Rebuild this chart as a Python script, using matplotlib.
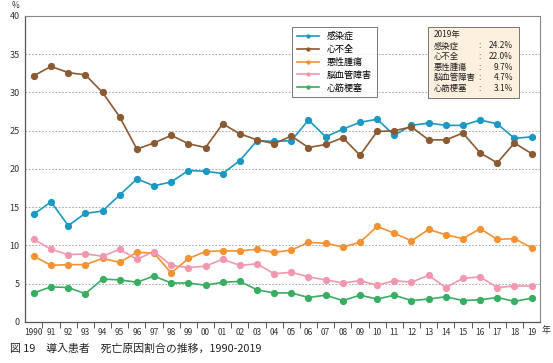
import numpy as np
import matplotlib.pyplot as plt
from matplotlib.patches import Rectangle

plt.rcParams['font.family'] = ['Noto Sans CJK JP', 'DejaVu Sans']

# 年（横軸ラベル）
years = ['1990', '91', '92', '93', '94', '95', '96', '97', '98', '99',
         '00', '01', '02', '03', '04', '05', '06', '07', '08', '09',
         '10', '11', '12', '13', '14', '15', '16', '17', '18', '19']

# 各死亡原因の割合 (%)
kansensho = [14.1, 15.7, 12.6, 14.2, 14.5, 16.6, 18.7, 17.8, 18.3, 19.8,
             19.7, 19.4, 21.1, 23.7, 23.6, 23.7, 26.4, 24.2, 25.2, 26.1,
             26.5, 24.4, 25.7, 26.0, 25.7, 25.7, 26.4, 25.9, 24.0, 24.2]
shinfuzen = [32.2, 33.4, 32.6, 32.3, 30.0, 26.8, 22.6, 23.4, 24.4, 23.3,
             22.8, 25.9, 24.6, 23.8, 23.3, 24.3, 22.8, 23.2, 24.1, 21.8,
             24.9, 25.0, 25.5, 23.8, 23.8, 24.7, 22.1, 20.8, 23.4, 22.0]
akusei = [8.6, 7.4, 7.5, 7.5, 8.3, 7.8, 9.1, 9.0, 6.4, 8.3,
          9.2, 9.3, 9.3, 9.5, 9.1, 9.4, 10.4, 10.3, 9.8, 10.4,
          12.5, 11.6, 10.6, 12.1, 11.4, 10.9, 12.2, 10.8, 10.9, 9.7]
noukekkan = [10.8, 9.5, 8.8, 8.9, 8.6, 9.5, 8.2, 9.2, 7.4, 7.1,
             7.3, 8.2, 7.4, 7.6, 6.3, 6.5, 5.9, 5.5, 5.1, 5.4,
             4.8, 5.4, 5.2, 6.1, 4.5, 5.7, 5.9, 4.5, 4.7, 4.7]
shinkin = [3.8, 4.6, 4.5, 3.7, 5.6, 5.5, 5.2, 6.0, 5.1, 5.1,
           4.8, 5.2, 5.3, 4.2, 3.8, 3.8, 3.2, 3.5, 2.8, 3.5,
           3.0, 3.5, 2.8, 3.0, 3.3, 2.8, 2.9, 3.2, 2.7, 3.1]

series = [
    ('感染症', kansensho, '#1b98c4'),
    ('心不全', shinfuzen, '#8b5a32'),
    ('悪性腫瘍', akusei, '#f39232'),
    ('脳血管障害', noukekkan, '#f297ae'),
    ('心筋梗塞', shinkin, '#39ad62'),
]

fig = plt.figure(figsize=(5.53, 3.63), dpi=100)
ax = fig.add_axes([0.0458, 0.113, 0.931, 0.843])

x = np.arange(len(years))
for name, vals, col in series:
    ax.plot(x, vals, color=col, marker='o', markersize=4.2, linewidth=1.2, label=name)

ax.set_xlim(-0.5, len(years) - 0.5)
ax.set_ylim(0, 40)
ax.set_yticks(np.arange(0, 41, 5))
ax.set_xticks(x)
ax.set_xticklabels(years)
ax.set_xticks(np.arange(0.5, len(years) - 1, 1), minor=True)
ax.tick_params(axis='x', which='major', length=0, labelsize=6, pad=4, colors='#333333')
ax.tick_params(axis='x', which='minor', length=4, width=0.7, color='#555555')
ax.tick_params(axis='y', length=0, labelsize=6.5, pad=4, colors='#333333')
ax.yaxis.grid(True, linestyle=(0, (2, 2)), color='#999999', linewidth=0.6)
ax.set_axisbelow(True)
for s in ['left', 'bottom']:
    ax.spines[s].set_color('#555555')
    ax.spines[s].set_linewidth(0.9)
for s in ['top', 'right']:
    ax.spines[s].set_color('#888888')
    ax.spines[s].set_linewidth(0.8)

# 凡例
leg = ax.legend(loc='upper left', bbox_to_anchor=((292 - 25.3) / 515, (322 - 27) / 306),
                fontsize=6.5, frameon=True, fancybox=False, edgecolor='#555555',
                markerscale=0.5, handlelength=2.4, labelspacing=0.42,
                borderpad=0.55, borderaxespad=0, handletextpad=0.9)
leg.get_frame().set_linewidth(0.7)

# 2019年の値のボックス
bx0, by0, bw, bh = 428 / 553, 1 - 98 / 363, 91 / 553, 71 / 363
fig.patches.append(Rectangle((bx0, by0), bw, bh, transform=fig.transFigure,
                             facecolor='#fdf0df', edgecolor='#777777', linewidth=0.7))
fig.text(bx0 + 0.01, 1 - 35 / 363, '2019年', fontsize=6, va='center', color='#222222')
for i, (name, vals, col) in enumerate(series):
    yy = 1 - (46 + i * 10.6) / 363
    fig.text(bx0 + 0.01, yy, name, fontsize=6, va='center', color='#222222')
    fig.text(480 / 553, yy, ':', fontsize=6, va='center', ha='center', color='#222222')
    fig.text(513 / 553, yy, f'{vals[-1]:.1f}%', fontsize=6, va='center',
             ha='right', color='#222222')

fig.text(15 / 553, 1 - 6 / 363, '%', fontsize=6, ha='center', va='center', color='#333333')
fig.text(546 / 553, 1 - 330 / 363, '年', fontsize=6.5, ha='center', va='center', color='#333333')
fig.text(10 / 553, 1 - 349 / 363, '図 19　導入患者　死亡原因割合の推移，1990-2019',
         fontsize=7.8, va='center', color='#222222')

plt.savefig('out.png', dpi=100)
